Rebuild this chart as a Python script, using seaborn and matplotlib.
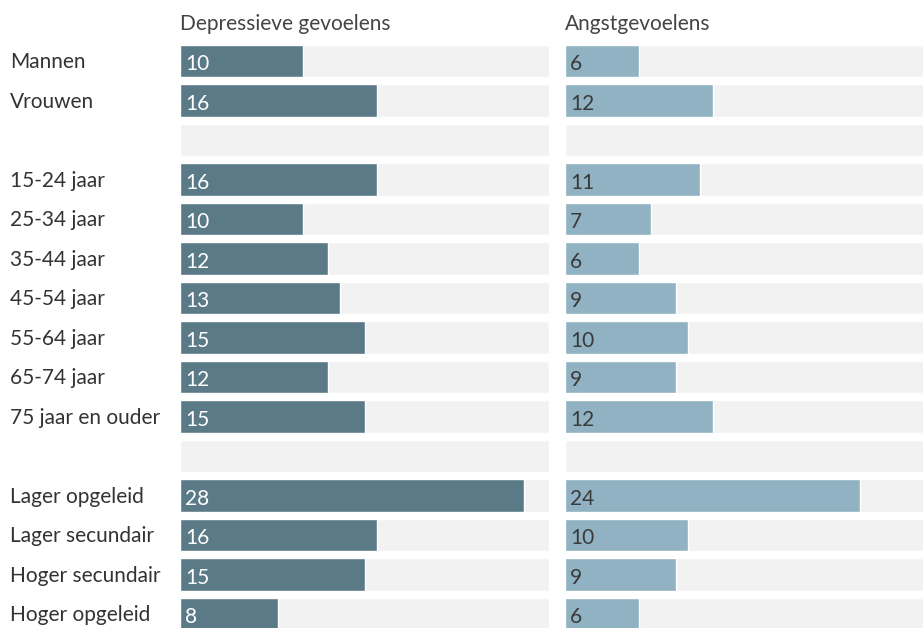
import numpy as np
import pandas as pd
import matplotlib
matplotlib.use("Agg")
import matplotlib.pyplot as plt
import matplotlib.transforms as mtransforms
import seaborn as sns

# Data (None = spacer row)
labels = ["Mannen", "Vrouwen", " ",
          "15-24 jaar", "25-34 jaar", "35-44 jaar", "45-54 jaar",
          "55-64 jaar", "65-74 jaar", "75 jaar en ouder", "  ",
          "Lager opgeleid", "Lager secundair", "Hoger secundair", "Hoger opgeleid"]
depressief = [10, 16, None, 16, 10, 12, 13, 15, 12, 15, None, 28, 16, 15, 8]
angst = [6, 12, None, 11, 7, 6, 9, 10, 9, 12, None, 24, 10, 9, 6]
panel_titles = ["Depressieve gevoelens", "Angstgevoelens"]
scale_max = 30

df = pd.DataFrame({"label": labels,
                   "Depressieve gevoelens": depressief,
                   "Angstgevoelens": angst,
                   "achtergrond": [scale_max] * len(labels)})

sns.set_style("white")
plt.rcParams['font.family'] = ['Lato', 'DejaVu Sans']

W, H = 923, 628
fig = plt.figure(figsize=(W / 100, H / 100), dpi=100)

row_h = 39.5
top = 61 - row_h / 2
ax_h = row_h * len(labels)
panels = [(180, panel_titles[0], "#5b7a88", "white"),
          (565, panel_titles[1], "#90b2c2", "#3a3a3a")]
panel_w = 369
fs = 15

axes = []
for x0, col, bar_color, txt_color in panels:
    ax = fig.add_axes([x0 / W, 1 - (top + ax_h) / H, panel_w / W, ax_h / H])
    # grey background bars
    sns.barplot(data=df, x="achtergrond", y="label", order=labels, orient="h",
                color="#f2f2f2", saturation=1, width=0.83, ax=ax)
    # value bars
    sns.barplot(data=df, x=col, y="label", order=labels, orient="h",
                color=bar_color, saturation=1, width=0.83, ax=ax)
    for i, v in enumerate(df[col]):
        if pd.notna(v):
            ax.text(0.4, i + 0.08, f"{int(v)}", va="center", ha="left",
                    color=txt_color, fontsize=fs)
    ax.set_xlim(0, scale_max)
    ax.set_ylim(len(labels) - 0.5, -0.5)
    ax.set_xlabel("")
    ax.set_ylabel("")
    ax.set_xticks([])
    ax.set_yticks([])
    sns.despine(ax=ax, left=True, bottom=True)
    fig.text(x0 / W, 1 - 24 / H, col, ha="left", va="center",
             fontsize=fs, color="#444444")
    axes.append(ax)

# category labels on the left
trans = mtransforms.blended_transform_factory(fig.transFigure, axes[0].transData)
for i, lab in enumerate(labels):
    if lab.strip():
        axes[0].text(10 / W, i + 0.03, lab, transform=trans, ha="left", va="center",
                     fontsize=fs, color="#333333")

fig.savefig("out.png", dpi=100)
